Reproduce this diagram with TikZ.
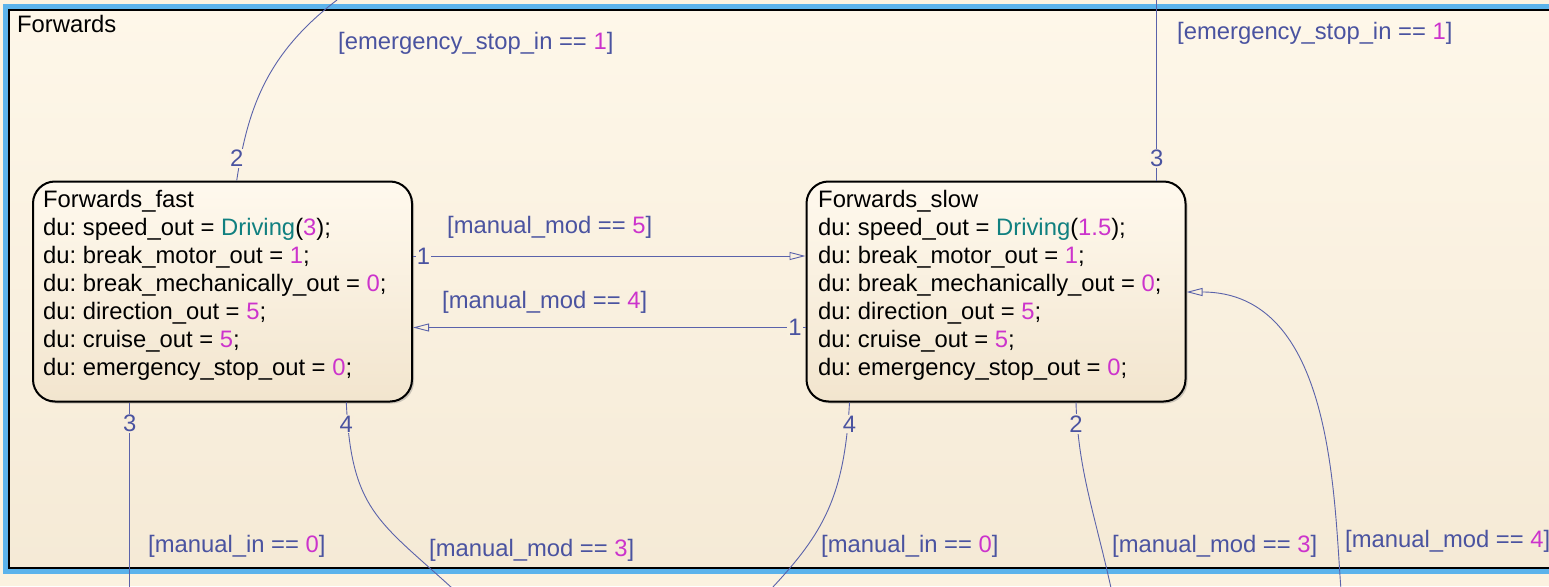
\documentclass[tikz,border=0pt]{standalone}
\usepackage{fontspec}
\setmainfont{Liberation Sans}
\usetikzlibrary{arrows.meta,shadows,calc}
\definecolor{bgout}{HTML}{FBF2E0}
\definecolor{frtop}{HTML}{FEF7E9}
\definecolor{frbot}{HTML}{F5EAD6}
\definecolor{frblue}{HTML}{5CB3EB}
\definecolor{sttop}{HTML}{FFF9EE}
\definecolor{stbot}{HTML}{F2E5CE}
\definecolor{trc}{HTML}{5A62AA}
\definecolor{lblc}{HTML}{4A53A0}
\definecolor{numc}{HTML}{CC33CC}
\definecolor{fnc}{HTML}{118080}
\newcommand{\numv}[1]{\textcolor{numc}{#1}}
\newcommand{\fnv}[1]{\textcolor{fnc}{#1}}
\frenchspacing
\begin{document}
\begin{tikzpicture}[x=1pt,y=-1pt,font=\fontsize{23.8}{28}\selectfont\frenchspacing,
  state/.style={draw=black,line width=2pt,rounded corners=22pt,minimum width=379pt,minimum height=220pt,
    top color=sttop,bottom color=stbot,inner sep=0pt,
    drop shadow={shadow xshift=2pt,shadow yshift=-2pt,opacity=0.3,fill=black!60}},
  sttext/.style={inner sep=0pt,anchor=base west,text=black},
  tr/.style={draw=trc,line width=0.9pt},
  tip/.style={-{Triangle[open,length=16pt,width=8pt,line width=0.9pt]}},
  lbl/.style={inner sep=0pt,anchor=base west,text=lblc},
  num/.style={inner sep=1.2pt,text=lblc}]
\useasboundingbox (0,0) rectangle (1549,586);
\fill[bgout] (0,0) rectangle (1549,586);
% superstate frame
\shade[top color=frtop,bottom color=frbot] (9,10) rectangle (1562,568);
\draw[frblue,line width=5.5pt] (5.5,6.5) rectangle (1566,571.5);
\draw[black,line width=2pt] (9,10) rectangle (1562,568);
\node[lbl,text=black] (fwl) at (17,33) {Forwards};
% states
\node[state] (fast) at (222.5,291.5) {};
\node[state] (slow) at (996,291.5) {};
\node[sttext] (fastt) at (43,207) {\begin{tabular}[t]{@{}l@{}}Forwards\_fast\\
du: speed\_out = \fnv{Driving}(\numv{3});\\
du: break\_motor\_out = \numv{1};\\
du: break\_mechanically\_out = \numv{0};\\
du: direction\_out = \numv{5};\\
du: cruise\_out = \numv{5};\\
du: emergency\_stop\_out = \numv{0};\end{tabular}};
\node[sttext] (slowt) at (818,207) {\begin{tabular}[t]{@{}l@{}}Forwards\_slow\\
du: speed\_out = \fnv{Driving}(\numv{1.5});\\
du: break\_motor\_out = \numv{1};\\
du: break\_mechanically\_out = \numv{0};\\
du: direction\_out = \numv{5};\\
du: cruise\_out = \numv{5};\\
du: emergency\_stop\_out = \numv{0};\end{tabular}};
% coordinates
\coordinate (q1) at (423.5,256);
\coordinate (q2) at (795,327.5);
\coordinate (q3) at (236.7,158.5);
\coordinate (q4) at (1156.7,158.5);
\coordinate (q5) at (129.7,423.7);
\coordinate (q6) at (346.3,424);
\coordinate (q7) at (849.5,424);
\coordinate (q8) at (1076,424);
\coordinate (q9) at (1250,292);
\coordinate (e3) at (337,0);
\coordinate (e4) at (1156.7,-2);
\coordinate (e5) at (129.7,590);
\coordinate (e6) at (452,588);
\coordinate (e7) at (772,588);
\coordinate (e8) at (1111,588);
\coordinate (e9) at (1341,590);
% transitions
\draw[tr,tip] (fast.east |- q1) -- (slow.west |- q1);
\draw[tr,tip] (slow.west |- q2) -- (fast.east |- q2);
\draw[tr] (fast.north -| q3) .. controls (247.5,111) and (265,55) .. (e3);
\draw[tr] (slow.north -| q4) -- (e4);
\draw[tr] (fast.south -| q5) -- (e5);
\draw[tr] (fast.south -| q6) .. controls (351.3,509.8) and (378,520.5) .. (e6);
\draw[tr] (slow.south -| q7) .. controls (844.3,497) and (823,533.3) .. (e7);
\draw[tr] (slow.south -| q8) .. controls (1078,470) and (1095,515) .. (e8);
\draw[tr,tip] (e9) .. controls (1333.7,495.3) and (1333,292) .. (slow.east |- q9);
% transition numbers
\node[num,fill=frbot!44!frtop] (n1) at (q1) {1};
\node[num,fill=frbot!57!frtop] (n2) at (q2) {1};
\node[num,fill=frbot!27!frtop] (n3) at (q3) {2};
\node[num,fill=frbot!27!frtop] (n4) at (q4) {3};
\node[num,fill=frbot!74!frtop] (n5) at (q5) {3};
\node[num,fill=frbot!74!frtop] (n6) at (q6) {4};
\node[num,fill=frbot!74!frtop] (n7) at (q7) {4};
\node[num,fill=frbot!74!frtop] (n8) at (q8) {2};
% guards
\node[lbl] (l1) at (447,233) {[manual\_mod == \numv{5}]};
\node[lbl] (l2) at (442,308) {[manual\_mod == \numv{4}]};
\node[lbl] (l3) at (338,50) {[emergency\_stop\_in == \numv{1}]};
\node[lbl] (l4) at (1177,40) {[emergency\_stop\_in == \numv{1}]};
\node[lbl] (l5) at (148,552) {[manual\_in == \numv{0}]};
\node[lbl] (l6) at (429,556) {[manual\_mod == \numv{3}]};
\node[lbl] (l7) at (821,552) {[manual\_in == \numv{0}]};
\node[lbl] (l8) at (1112,552) {[manual\_mod == \numv{3}]};
\node[lbl] (l9) at (1345,547) {[manual\_mod == \numv{4}]};
\end{tikzpicture}
\end{document}
